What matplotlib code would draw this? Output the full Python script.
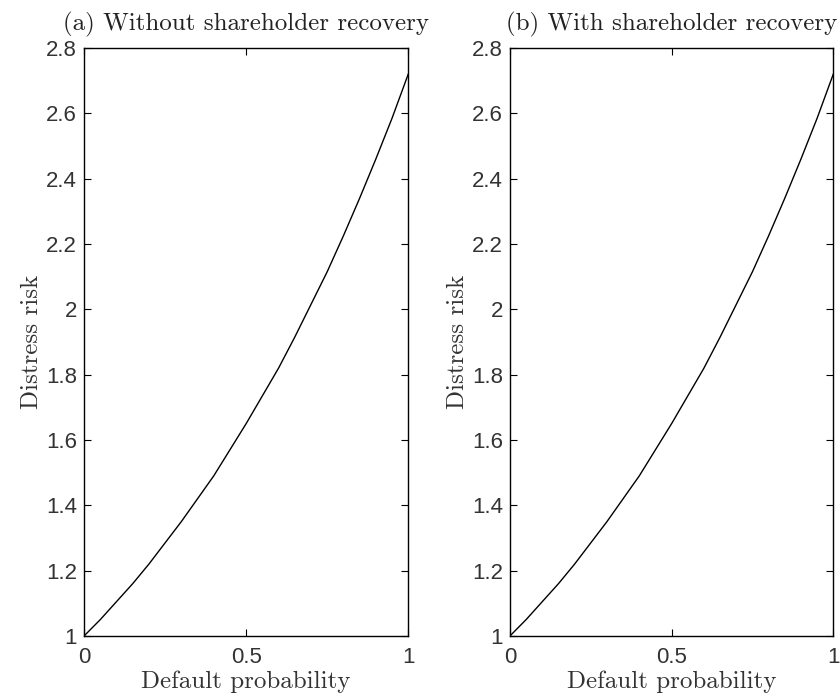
import numpy as np
import matplotlib.pyplot as plt

# values
prob = [0.0, 0.05, 0.1, 0.15, 0.2, 0.25, 0.3, 0.35, 0.4, 0.45, 0.5,
        0.55, 0.6, 0.65, 0.7, 0.75, 0.8, 0.85, 0.9, 0.95, 1.0]
risk_a = [1.00, 1.05, 1.105, 1.16, 1.22, 1.285, 1.35, 1.42, 1.49, 1.57, 1.65,
          1.735, 1.82, 1.915, 2.015, 2.115, 2.225, 2.34, 2.46, 2.585, 2.72]
risk_b = [1.00, 1.05, 1.105, 1.16, 1.22, 1.285, 1.35, 1.42, 1.49, 1.57, 1.65,
          1.735, 1.82, 1.915, 2.015, 2.115, 2.225, 2.34, 2.46, 2.585, 2.72]
titles = ['(a) Without shareholder recovery', '(b) With shareholder recovery']
yticks = [1, 1.2, 1.4, 1.6, 1.8, 2, 2.2, 2.4, 2.6, 2.8]
ytick_labels = ['1', '1.2', '1.4', '1.6', '1.8', '2', '2.2', '2.4', '2.6', '2.8']
xticks = [0, 0.5, 1]
xtick_labels = ['0', '0.5', '1']

serif = 'cmr10'
sans = 'Liberation Sans'
fig = plt.figure(figsize=(8.4, 7), dpi=100)
boxes = [[0.1, 0.0914, 0.386, 0.84], [0.607, 0.0914, 0.385, 0.84]]

for box, title, risk in zip(boxes, titles, [risk_a, risk_b]):
    ax = fig.add_axes(box)
    ax.plot(prob, risk, color='black', lw=1.0)
    ax.set_xlim(0, 1)
    ax.set_ylim(1, 2.8)
    ax.set_xticks(xticks)
    ax.set_xticklabels(xtick_labels, family=sans)
    ax.set_yticks(yticks)
    ax.set_yticklabels(ytick_labels, family=sans)
    ax.tick_params(direction='in', top=True, right=True, length=5, width=0.8,
                   labelsize=16, labelcolor='#333333', pad=5)
    ax.tick_params(axis='x', pad=8)
    for s in ax.spines.values():
        s.set_linewidth(1.0)
    ax.set_title(title, family=serif, fontsize=18, pad=13, color='#222222')
    ax.set_xlabel('Default probability', family=serif, fontsize=18,
                  color='#333333', labelpad=2)
    ax.set_ylabel('Distress risk', family=serif, fontsize=18,
                  color='#333333', labelpad=2)

fig.savefig('out.png', dpi=100)
